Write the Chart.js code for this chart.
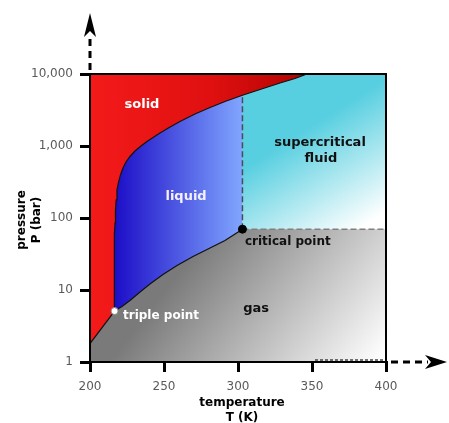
<!DOCTYPE html>
<html><head><meta charset="utf-8">
<script src="https://cdn.jsdelivr.net/npm/chart.js@4.4.1/dist/chart.umd.min.js"></script>
<style>html,body{margin:0;padding:0;background:#fff;overflow:hidden}</style>
</head><body>
<canvas id="c" width="449" height="423"></canvas>
<script>
// ---- data (temperature K, pressure bar) ----
const xTicks = [200, 250, 300, 350, 400];
const yTicks = [1, 10, 100, 1000, 10000];
const yTickLabels = ['1', '10', '100', '1,000', '10,000'];
const triplePoint = [216.6, 5.1];
const criticalPoint = [303, 70];
const sublimation = [[200, 1.8], [216.6, 5.1]];
const melting = [[216.6, 5.1], [216.3, 12], [216.4, 30], [216.7, 60], [216.9, 85], [217.2, 129], [217.7, 178], [218.2, 245],
  [219.3, 316], [220.6, 396], [222.3, 495], [224.3, 600], [227, 715], [230.4, 853], [234.5, 1000], [238.5, 1155],
  [242.6, 1312], [247.3, 1517], [254.1, 1836], [260.8, 2190], [270.9, 2783], [281.1, 3425], [291.2, 4150],
  [303, 5070], [314.9, 6095], [328.4, 7500], [338.5, 8660], [346.6, 10000]];
const vaporization = [[216.6, 5.1], [221.6, 5.9], [227, 7.15], [233.8, 9.38], [240.5, 12.1], [249.3, 16.4], [258.8, 21.9],
  [269.6, 29.2], [281.1, 38.3], [291.2, 48.7], [303, 70]];
const xMax = 400, yMin = 1, yMax = 10000;

const pts = a => a.map(p => ({x: p[0], y: p[1]}));
const meltToCrit = melting.filter(p => p[0] <= criticalPoint[0]);
const meltAboveCrit = melting.filter(p => p[0] >= criticalPoint[0]);

function grad(chart, x0, y0, x1, y1, stops) {
  const g = chart.ctx.createLinearGradient(x0, y0, x1, y1);
  stops.forEach(s => g.addColorStop(s[0], s[1]));
  return g;
}
const bgSuper = c => { const a = c.chart.chartArea; if (!a) return 'transparent';
  return grad(c.chart, 290, 140, 350, 235, [[0, '#58cfe0'], [1, '#ffffff']]); };
const bgLiquid = c => { const a = c.chart.chartArea; if (!a) return 'transparent';
  return grad(c.chart, 112, 0, 244, 0, [[0, '#1a0ac6'], [1, '#82a8ff']]); };
const bgGas = c => { const a = c.chart.chartArea; if (!a) return 'transparent';
  return grad(c.chart, 180, 270, 350, 400, [[0, '#7a7a7a'], [1, '#ffffff']]); };
const bgSolid = c => { const a = c.chart.chartArea; if (!a) return 'transparent';
  return grad(c.chart, a.left, 0, 310, 0, [[0, '#f41a1a'], [0.55, '#e01010'], [1, '#b00202']]); };

const labelsPlugin = {
  id: 'labels',
  afterDatasetsDraw(chart) {
    const {ctx, chartArea: a, scales: {x, y}} = chart;
    const P = (tx, py) => [x.getPixelForValue(tx), y.getPixelForValue(py)];
    ctx.save();
    ctx.strokeStyle = '#000'; ctx.lineWidth = 2; ctx.setLineDash([]);
    ctx.strokeRect(a.left, a.top, a.right - a.left, a.bottom - a.top);
    ctx.textBaseline = 'middle';
    const items = [
      ['solid', 235.1, 3700, '#fff', 'center', 13],
      ['liquid', 264.9, 196, '#f4f0ff', 'center', 13],
      ['supercritical', 355.4, 1100, '#111', 'center', 13],
      ['fluid', 356, 660, '#111', 'center', 13],
      ['critical point', 304.7, 46, '#111', 'left', 12],
      ['triple point', 222.3, 4.36, '#fff', 'left', 12],
      ['gas', 312.2, 5.45, '#111', 'center', 13]
    ];
    items.forEach(([t, tx, py, col, al, sz]) => {
      const [px, pyy] = P(tx, py);
      ctx.font = 'bold ' + sz + 'px "DejaVu Sans"';
      ctx.fillStyle = col; ctx.textAlign = al;
      ctx.fillText(t, px, pyy);
    });
    ctx.restore();
  },
  afterDraw(chart) {
    const {ctx, chartArea: a} = chart;
    ctx.save();
    ctx.fillStyle = '#000'; ctx.strokeStyle = '#000';
    // y arrow
    ctx.lineWidth = 3; ctx.setLineDash([7, 5]);
    ctx.beginPath(); ctx.moveTo(a.left, a.top - 4); ctx.lineTo(a.left, 36); ctx.stroke();
    ctx.setLineDash([]);
    ctx.beginPath(); ctx.moveTo(a.left, 13); ctx.lineTo(a.left + 6, 37); ctx.lineTo(a.left, 31); ctx.lineTo(a.left - 6, 37); ctx.closePath(); ctx.fill();
    // x arrow
    ctx.setLineDash([7, 5]);
    ctx.beginPath(); ctx.moveTo(a.right + 5, a.bottom); ctx.lineTo(428, a.bottom); ctx.stroke();
    ctx.setLineDash([]);
    ctx.beginPath(); ctx.moveTo(447, a.bottom); ctx.lineTo(425, a.bottom - 7); ctx.lineTo(431, a.bottom); ctx.lineTo(425, a.bottom + 7); ctx.closePath(); ctx.fill();
    // faint dotted line near bottom right
    ctx.lineWidth = 1.5; ctx.setLineDash([3, 2]); ctx.strokeStyle = '#444';
    ctx.beginPath(); ctx.moveTo(315, a.bottom - 2); ctx.lineTo(a.right - 2, a.bottom - 2); ctx.stroke();
    ctx.setLineDash([]);
    // axis titles
    ctx.fillStyle = '#000'; ctx.font = 'bold 12px "DejaVu Sans"'; ctx.textAlign = 'center'; ctx.textBaseline = 'middle';
    const cx = (a.left + a.right) / 2 + 4;
    ctx.fillText('temperature', cx, 403);
    ctx.fillText('T (K)', cx, 418);
    ctx.translate(22, 220); ctx.rotate(-Math.PI / 2);
    ctx.fillText('pressure', 0, 0);
    ctx.fillText('P (bar)', 0, 15);
    ctx.restore();
  }
};

const critT = criticalPoint[0];
const none = {borderWidth: 0, pointRadius: 0};
new Chart(document.getElementById('c'), {
  type: 'line',
  data: {
    datasets: [
      Object.assign({data: pts([[200, yMax], [xMax, yMax]]), fill: 'start', backgroundColor: bgSuper, order: 10}, none),
      Object.assign({data: pts(meltToCrit.concat([[critT, yMin]])), fill: 'start', backgroundColor: bgLiquid, order: 9}, none),
      Object.assign({data: pts(sublimation.concat(vaporization.slice(1), [[xMax, criticalPoint[1]]])), fill: 'start', backgroundColor: bgGas, order: 8}, none),
      {data: pts(sublimation.concat(melting.slice(1))), fill: 'end', backgroundColor: bgSolid, borderColor: '#111', borderWidth: 1.2, pointRadius: 0, order: 7},
      {data: pts(vaporization), fill: false, borderColor: '#111', borderWidth: 1.2, pointRadius: 0, order: 6},
      {data: pts([criticalPoint, [xMax, criticalPoint[1]]]), fill: false, borderColor: '#808080', borderWidth: 1.5, borderDash: [6, 3], pointRadius: 0, order: 5},
      {data: pts([criticalPoint, meltAboveCrit[0]]), fill: false, borderColor: '#4a4a5a', borderWidth: 1.5, borderDash: [6, 3], pointRadius: 0, order: 4},
      {data: pts([triplePoint]), showLine: false, pointRadius: 3.5, pointBackgroundColor: '#fff', pointBorderColor: '#888', pointBorderWidth: 1, order: 2},
      {data: pts([criticalPoint]), showLine: false, pointRadius: 4, pointBackgroundColor: '#000', pointBorderColor: '#000', pointBorderWidth: 1, order: 1}
    ]
  },
  options: {
    responsive: false, animation: false, events: [],
    layout: {padding: {left: 0, top: 74, right: 63, bottom: 0}},
    plugins: {legend: {display: false}, tooltip: {enabled: false}},
    scales: {
      x: {type: 'linear', min: 200, max: xMax,
        afterBuildTicks: s => { s.ticks = xTicks.map(v => ({value: v})); },
        afterFit: s => { s.height = 61; },
        ticks: {color: '#5a5a5a', font: {size: 12, family: 'DejaVu Sans'}, padding: 8, maxRotation: 0},
        grid: {drawOnChartArea: false, drawTicks: true, tickLength: 10, color: '#000', lineWidth: 3},
        border: {display: true, color: '#000', width: 2}},
      y: {type: 'logarithmic', min: yMin, max: yMax,
        afterBuildTicks: s => { s.ticks = yTicks.map(v => ({value: v})); },
        afterFit: s => { s.width = 90; },
        ticks: {color: '#5a5a5a', font: {size: 12, family: 'DejaVu Sans'}, padding: 7,
          callback: v => yTickLabels[yTicks.indexOf(v)]},
        grid: {drawOnChartArea: false, drawTicks: true, tickLength: 10, color: '#000', lineWidth: 3},
        border: {display: true, color: '#000', width: 2}}
    }
  },
  plugins: [labelsPlugin]
});
</script>
</body></html>
